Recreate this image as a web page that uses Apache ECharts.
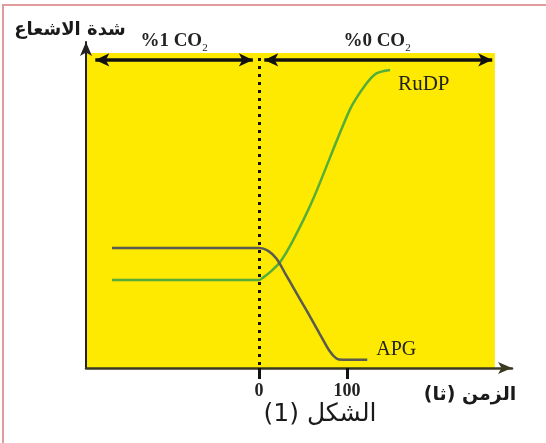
<!DOCTYPE html>
<html>
<head>
<meta charset="utf-8">
<script src="https://cdn.jsdelivr.net/npm/echarts@6/dist/echarts.min.js"></script>
<style>
  html, body { margin: 0; padding: 0; background: #ffffff; }
  #chart { width: 546px; height: 443px; }
</style>
</head>
<body>
<div id="chart"></div>
<script>
// Time axis (s) ticks
const timeTicks = [0, 100];

// APG radioactivity over time
const apgTime = [-167, 0, 10, 20, 30, 40, 55, 69, 80, 88, 95, 123];
const apgLevel = [36.8, 36.8, 36.0, 33.5, 28.9, 24.2, 17.2, 10.5, 5.3, 2.9, 2.5, 2.5];

// RuDP radioactivity over time
const rudpTime = [-167, 0, 5, 12.5, 24, 39, 61, 103, 120, 133, 149];
const rudpLevel = [27, 27, 27.8, 29.4, 32.5, 39.3, 51.5, 79.1, 86.5, 90.3, 91.4];

// CO2 phases: [start, end] along the time axis
const phaseLabels = ['%1 CO', '%0 CO'];
const phaseSpans = [[-186, -7], [6, 265]];

const xMin = -196.6, xMax = 287.5, shadeEnd = 268;
const yMax = 100, shadeTop = 96.6, phaseLevel = 94.5;

const chart = echarts.init(document.getElementById('chart'));

const pairs = (xs, ys) => xs.map((x, i) => [x, ys[i]]);

const serif = 'Liberation Serif';

chart.setOption({
  animation: false,
  backgroundColor: '#ffffff',
  grid: { left: 86, right: 34, top: 42, bottom: 75 },
  xAxis: {
    type: 'value', min: xMin, max: xMax,
    splitLine: { show: false },
    axisLine: { show: true, onZero: false, symbol: ['none', 'arrow'], symbolSize: [9, 14],
      lineStyle: { color: '#3a3a20', width: 2.5 } },
    axisTick: { show: true, customValues: timeTicks, length: 11, lineStyle: { color: '#111', width: 3 } },
    axisLabel: { show: true, customValues: timeTicks, margin: 14, fontFamily: serif, fontSize: 18,
      fontWeight: 'bold', color: '#222' }
  },
  yAxis: {
    type: 'value', min: 0, max: yMax,
    splitLine: { show: false },
    axisLine: { show: true, onZero: false, symbol: ['none', 'arrow'], symbolSize: [9, 14],
      lineStyle: { color: '#222', width: 2 } },
    axisTick: { show: false },
    axisLabel: { show: false }
  },
  series: [
    {
      name: 'APG', type: 'line', data: pairs(apgTime, apgLevel),
      showSymbol: false, smooth: 0.3, z: 5,
      lineStyle: { color: '#5a5a50', width: 2.5 },
      endLabel: { show: true, formatter: 'APG', fontFamily: serif, fontSize: 20,
        color: '#222', offset: [1, -10] },
      markArea: {
        silent: true, z: 0,
        itemStyle: { color: '#fee900' },
        data: [[{ coord: [xMin, 0] }, { coord: [shadeEnd, shadeTop] }]]
      },
      markLine: {
        silent: true, animation: false,
        label: { show: false },
        data: [
          [{ coord: [0, shadeTop - 1.5], symbol: 'none',
             lineStyle: { color: '#111', width: 3, type: [3, 5] } },
           { coord: [0, 0], symbol: 'none' }],
          [{ coord: [phaseSpans[0][0], phaseLevel], symbol: 'arrow', symbolSize: [10, 14],
             lineStyle: { color: '#111', width: 3.5, type: 'solid' } },
           { coord: [phaseSpans[0][1], phaseLevel], symbol: 'arrow', symbolSize: [10, 14] }],
          [{ coord: [phaseSpans[1][0], phaseLevel], symbol: 'arrow', symbolSize: [10, 14],
             lineStyle: { color: '#111', width: 3.5, type: 'solid' } },
           { coord: [phaseSpans[1][1], phaseLevel], symbol: 'arrow', symbolSize: [10, 14] }]
        ]
      }
    },
    {
      name: 'RuDP', type: 'line', data: pairs(rudpTime, rudpLevel),
      showSymbol: false, smooth: 0.3, z: 4,
      lineStyle: { color: '#55ad3a', width: 2.5 },
      endLabel: { show: true, formatter: 'RuDP', fontFamily: serif, fontSize: 21,
        color: '#222', offset: [0, 14] }
    }
  ],
  graphic: [
    // frame
    { type: 'rect', shape: { x: 3, y: 5, width: 620, height: 500 }, silent: true,
      style: { fill: 'none', stroke: '#e39a9a', lineWidth: 2 } },
    // CO2 phase captions
    { type: 'text', x: 174, y: 41, style: {
        text: '{a|' + phaseLabels[0] + '}{s|2}', align: 'center', verticalAlign: 'middle',
        rich: { a: { fontFamily: serif, fontSize: 19, fontWeight: 'bold', fill: '#222' },
                s: { fontFamily: serif, fontSize: 11, fill: '#222', padding: [15, 0, 0, 0] } } } },
    { type: 'text', x: 377, y: 41, style: {
        text: '{a|' + phaseLabels[1] + '}{s|2}', align: 'center', verticalAlign: 'middle',
        rich: { a: { fontFamily: serif, fontSize: 19, fontWeight: 'bold', fill: '#222' },
                s: { fontFamily: serif, fontSize: 11, fill: '#222', padding: [15, 0, 0, 0] } } } },
    // axis titles
    { type: 'text', x: 70, y: 30, style: { text: 'شدة الاشعاع', align: 'center', verticalAlign: 'middle',
        fontFamily: 'DejaVu Sans', fontSize: 18, fontWeight: 'bold', fill: '#1a1a1a' } },
    { type: 'text', x: 470, y: 395, style: { text: 'الزمن (ثا)', align: 'center', verticalAlign: 'middle',
        fontFamily: 'DejaVu Sans', fontSize: 19, fontWeight: 'bold', fill: '#1a1a1a' } },
    { type: 'text', x: 320, y: 414, style: { text: 'الشكل (1)', align: 'center', verticalAlign: 'middle',
        fontFamily: 'DejaVu Sans', fontSize: 25, fill: '#1a1a1a' } }
  ]
});
</script>
</body>
</html>
